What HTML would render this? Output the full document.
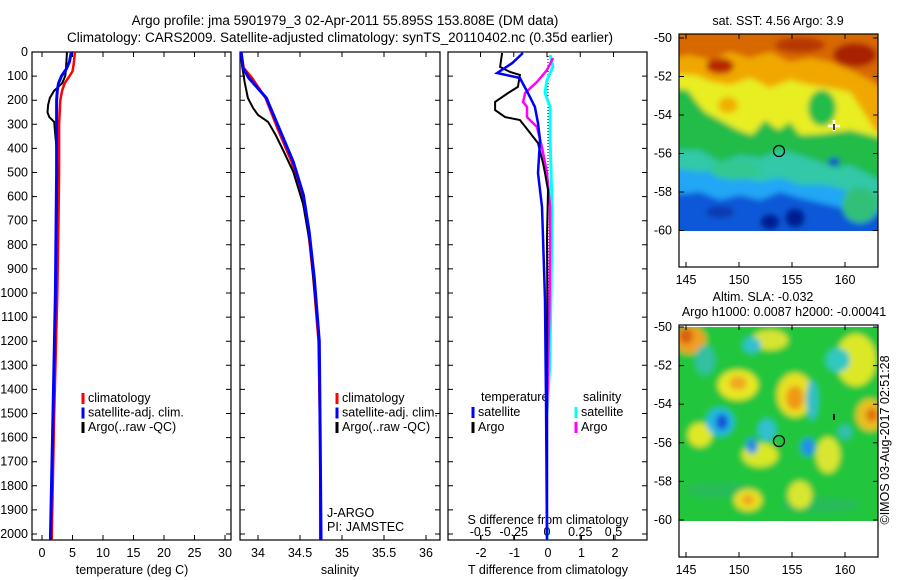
<!DOCTYPE html>
<html><head><meta charset="utf-8"><style>
body{margin:0;background:#fff;}
svg{display:block;font-family:"Liberation Sans",sans-serif;}
text{font-size:12.5px;fill:#000;}
</style></head><body>
<svg id="root" width="900" height="580" viewBox="0 0 900 580">
<defs>
<filter id="bl" x="-5%" y="-5%" width="110%" height="110%"><feGaussianBlur stdDeviation="3"/></filter>
<clipPath id="cm1"><rect x="679" y="34" width="199" height="197"/></clipPath>
<clipPath id="cm2"><rect x="679" y="327" width="199" height="194"/></clipPath>
</defs>
<text x="345" y="25" text-anchor="middle" style="font-size:13.5px">Argo profile: jma 5901979_3 02-Apr-2011 55.895S 153.808E (DM data)</text>
<text x="340" y="42" text-anchor="middle" style="font-size:13.5px">Climatology: CARS2009. Satellite-adjusted climatology: synTS_20110402.nc (0.35d earlier)</text>
<g id="axes"></g>
<g id="lines"></g>

<!-- Top map -->
<g>
<text x="778" y="25" text-anchor="middle">sat. SST: 4.56 Argo: 3.9</text>
<g clip-path="url(#cm1)">
<g filter="url(#bl)">
<rect x="670" y="25" width="220" height="215" fill="#0a58d8"/>
<path d="M670 25H890V215L860 212L830 205L800 198L780 192L760 200L740 195L720 200L700 192L670 195Z" fill="#22a6f6"/>
<path d="M670 25H890V210L860 200L845 190L825 185L800 185L780 178L760 182L740 178L720 170L700 172L670 168Z" fill="#30c8a8"/>
<path d="M670 25H890V185L870 175L850 165L835 168L815 160L800 155L780 150L760 158L740 155L720 162L700 150L670 150Z" fill="#20bc48"/>
<path d="M670 25H890V140L870 135L850 130L835 132L820 134L800 135L790 122L778 130L765 120L752 135L738 130L720 120L705 112L695 100L688 90L670 88Z" fill="#e8ee20"/>
<ellipse cx="822" cy="108" rx="14" ry="18" fill="#20bc48"/>
<path d="M670 25H890V140L875 130L862 110L850 92L830 88L810 85L790 80L770 88L750 78L730 85L712 82L695 75L670 75Z" fill="#f0a800"/>
<path d="M670 25H890V95L870 80L850 70L830 62L810 58L790 62L770 52L750 58L730 52L710 60L690 55L670 58Z" fill="#d86800"/>
<ellipse cx="720" cy="66" rx="14" ry="8" fill="#b82800"/>
<ellipse cx="855" cy="55" rx="22" ry="12" fill="#a82000"/>
<ellipse cx="800" cy="45" rx="25" ry="8" fill="#b83800"/>
<ellipse cx="728" cy="105" rx="10" ry="8" fill="#f0b000"/>
<ellipse cx="735" cy="170" rx="25" ry="10" fill="#30c890"/>
<ellipse cx="860" cy="205" rx="18" ry="18" fill="#30c078"/>
<ellipse cx="770" cy="222" rx="10" ry="8" fill="#001a90"/>
<ellipse cx="795" cy="218" rx="10" ry="10" fill="#001a90"/>
<ellipse cx="720" cy="212" rx="14" ry="6" fill="#0838b0"/>
<ellipse cx="834" cy="162" rx="6" ry="4" fill="#1040d0"/>
</g></g>
<rect x="679" y="231" width="199" height="36" fill="#fff"/>
<rect x="679" y="34" width="199" height="233" fill="none" stroke="#000" stroke-width="1.2"/>
<circle cx="779" cy="151" r="5.5" fill="none" stroke="#000" stroke-width="1.2"/>
<path d="M828 126H840M834 120V131" stroke="#fff" stroke-width="2.5"/>
<path d="M834 124V130" stroke="#000" stroke-width="1.5"/>
</g>

<!-- Bottom map -->
<g>
<text x="763" y="301" text-anchor="middle">Altim. SLA: -0.032</text>
<text x="784" y="316" text-anchor="middle">Argo h1000: 0.0087 h2000: -0.00041</text>
<g clip-path="url(#cm2)">
<g filter="url(#bl)">
<rect x="670" y="320" width="220" height="210" fill="#22c63e"/>
<ellipse cx="720" cy="490" rx="35" ry="8" fill="#28bc58"/>
<ellipse cx="820" cy="505" rx="40" ry="8" fill="#28bc58"/>
<ellipse cx="738" cy="385" rx="20" ry="15" fill="#e8e820"/><ellipse cx="738" cy="383" rx="9" ry="7" fill="#f0a820"/>
<ellipse cx="700" cy="435" rx="12" ry="12" fill="#e0e828"/>
<ellipse cx="760" cy="455" rx="18" ry="12" fill="#d8e828"/>
<ellipse cx="795" cy="395" rx="18" ry="22" fill="#e8e020"/><ellipse cx="795" cy="398" rx="9" ry="12" fill="#f09818"/>
<ellipse cx="748" cy="500" rx="14" ry="11" fill="#e8e020"/><ellipse cx="748" cy="500" rx="6" ry="5" fill="#f0a020"/>
<ellipse cx="856" cy="360" rx="20" ry="26" fill="#dce828"/>
<ellipse cx="770" cy="340" rx="18" ry="10" fill="#d8e430"/>
<ellipse cx="828" cy="455" rx="12" ry="18" fill="#d8e630"/>
<ellipse cx="870" cy="415" rx="14" ry="16" fill="#e8c020"/><ellipse cx="872" cy="415" rx="6" ry="7" fill="#e07010"/>
<ellipse cx="690" cy="340" rx="16" ry="14" fill="#f0a020"/><ellipse cx="686" cy="336" rx="7" ry="8" fill="#d86010"/>
<ellipse cx="800" cy="495" rx="12" ry="14" fill="#d8e630"/>
<ellipse cx="720" cy="422" rx="14" ry="14" fill="#20b8e0"/><ellipse cx="722" cy="422" rx="6" ry="8" fill="#1850d8"/>
<ellipse cx="752" cy="345" rx="9" ry="8" fill="#30c0d0"/>
<ellipse cx="767" cy="430" rx="9" ry="11" fill="#30c0d0"/>
<ellipse cx="808" cy="447" rx="7" ry="9" fill="#2090e8"/>
<ellipse cx="838" cy="360" rx="12" ry="12" fill="#30c8c0"/>
<ellipse cx="812" cy="400" rx="6" ry="20" fill="#30c0c8"/>
<ellipse cx="845" cy="432" rx="7" ry="7" fill="#30c0b0"/>
<ellipse cx="705" cy="360" rx="10" ry="15" fill="#30c0a0"/>
<ellipse cx="752" cy="446" rx="6" ry="8" fill="#2890e0"/>
</g></g>
<rect x="679" y="521" width="199" height="36" fill="#fff"/>
<rect x="679" y="325" width="199" height="232" fill="none" stroke="#000" stroke-width="1.2"/>
<circle cx="779" cy="441" r="5.5" fill="none" stroke="#000" stroke-width="1.2"/>
<path d="M834 414V420" stroke="#000" stroke-width="1.8"/>
<text transform="translate(889,440) rotate(-90)" text-anchor="middle">©IMOS 03-Aug-2017 02:51:28</text>
</g>
</svg>
<script>
// ===== data =====
const tClimDepth=[0,50,80,100,130,160,200,300,500,700,1000,1500,2000,2025];
const tClim=[5.4,5.2,5.0,4.5,3.7,3.3,3.0,2.8,2.8,2.7,2.5,2.0,1.6,1.6];
const tSatDepth=[0,40,70,100,130,160,200,300,500,1000,1500,2000,2025];
const tSat=[4.8,4.5,4.0,3.2,2.7,2.5,2.4,2.4,2.4,2.2,1.8,1.4,1.4];
const tArgoDepth=[0,40,80,100,130,160,190,220,250,270,290,320,350,400,500,1000,1500,1980];
const tArgo=[4.1,4.0,3.9,3.8,3.3,2.0,1.3,1.0,0.9,1.2,2.0,2.1,2.2,2.4,2.5,2.2,1.8,1.4];
const sDepth=[0,66,108,191,315,456,593,747,938,1200,1600,2000,2025];
const sSat=[33.80,33.82,33.89,34.10,34.25,34.42,34.54,34.61,34.67,34.73,34.74,34.75,34.75];
const sClim=[33.80,33.83,33.93,34.09,34.23,34.40,34.52,34.60,34.66,34.72,34.74,34.74,34.74];
const sArgoDepth=[0,54,124,191,232,261,290,344,415,498,635,800,1200,1600,1980];
const sArgo=[33.80,33.81,33.84,33.88,33.94,34.00,34.12,34.21,34.31,34.42,34.54,34.62,34.73,34.74,34.75];
const dtSatDepth=[4,46,87,108,170,228,295,365,502,643,768,1029,1444,2025];
const dtSat=[-0.75,-1.07,-1.52,-0.84,-0.60,-0.39,-0.30,-0.24,-0.30,-0.18,-0.15,-0.09,-0.06,-0.03];
const dtArgoDepth=[4,62,83,95,145,170,207,241,270,282,324,378,461,502,573,768,1000,1500,1980];
const dtArgo=[-1.37,-1.43,-1.13,-0.84,-0.90,-1.19,-1.58,-1.58,-1.28,-0.84,-0.60,-0.30,-0.15,-0.09,0,-0.03,-0.02,-0.03,-0.03];
const dsArgoDepth=[25,75,124,170,207,228,270,311,394,502,643,768,1000,1500,1980];
const dsArgo=[0.045,0,-0.075,-0.165,-0.18,-0.15,-0.15,-0.075,-0.038,0,0.023,0.023,0.02,0.0,0.0];
const dsSatDepth=[12,62,116,170,228,365,643,1000,1300,1500,2025];
const dsSat=[0.023,0.045,0,-0.015,0.023,0.023,0.038,0.03,0.02,0.0,0.0];
const depthTicks=[0,100,200,300,400,500,600,700,800,900,1000,1100,1200,1300,1400,1500,1600,1700,1800,1900,2000];
const tTicks=[0,5,10,15,20,25,30];
const sTicks=[34,34.5,35,35.5,36];
const sTickLabels=["34","34.5","35","35.5","36"];
const dtTicks=[-2,-1,0,1,2];
const dsTicks=[-0.5,-0.25,0,0.25,0.5];
const latTicks=[-50,-52,-54,-56,-58,-60];
const lonTicks=[145,150,155,160];
// ===== scales =====
const yD=d=>52+0.241*d;
const xT=v=>42+6.1*v;
const xS=v=>258+84*(v-34);
const xDT=v=>548+33.5*v;
const xDS=v=>547+133*v;
const NS='http://www.w3.org/2000/svg';
const axes=document.getElementById('axes'), lines=document.getElementById('lines'), root=document.getElementById('root');
function mk(tag,attrs,parent,txt){const e=document.createElementNS(NS,tag);for(const k in attrs)e.setAttribute(k,attrs[k]);if(txt!==undefined)e.textContent=txt;parent.appendChild(e);return e;}
const panels=[[32,231],[240,440],[448,647]];
panels.forEach((p,i)=>{
  const r=mk('rect',{x:p[0],y:52,width:p[1]-p[0],height:488,fill:'none',stroke:'#000','stroke-width':1.2},axes);
  
  
  depthTicks.forEach(d=>{mk('path',{d:`M${p[0]} ${yD(d)}h5M${p[1]} ${yD(d)}h-5`,stroke:'#000'},axes);});
});
depthTicks.forEach(d=>{
  const t=mk('text',{x:28,y:yD(d)+4,'text-anchor':'end'},axes,String(d));
  
  
});
tTicks.forEach(v=>{const x=xT(v);mk('path',{d:`M${x} 540v-5M${x} 52v5`,stroke:'#000'},axes);
  const t=mk('text',{x:x,y:557,'text-anchor':'middle'},axes,String(v));
  
  });
sTicks.forEach((v,i)=>{const x=xS(v);mk('path',{d:`M${x} 540v-5M${x} 52v5`,stroke:'#000'},axes);
  const t=mk('text',{x:x,y:557,'text-anchor':'middle'},axes,sTickLabels[i]);
  
  });
dtTicks.forEach(v=>{const x=xDT(v);mk('path',{d:`M${x} 540v-5`,stroke:'#000'},axes);
  const t=mk('text',{x:x,y:557,'text-anchor':'middle'},axes,String(v));
  
  });
dsTicks.forEach(v=>{const x=xDS(v);mk('path',{d:`M${x} 52v5M${x} 540v-5`,stroke:'#000'},axes);
  const t=mk('text',{x:x,y:536,'text-anchor':'middle'},axes,String(v));
  
  });
[['temperature (deg C)',132,'x-axis-title-temperature'],['salinity',340,'x-axis-title-salinity'],['T difference from climatology',548,'x-axis-title-t-diff']].forEach(a=>{
  const t=mk('text',{x:a[1],y:574,'text-anchor':'middle'},axes,a[0]);
  
  });
const st=mk('text',{x:548,y:524,'text-anchor':'middle'},axes,'S difference from climatology');


// zero dotted line
mk('path',{d:`M${xDT(0)} 56V540`,stroke:'#000','stroke-dasharray':'1 2','stroke-width':1},lines);
function series(depths,vals,xf,color,w,name){
  const pts=vals.map((v,i)=>xf(v).toFixed(1)+','+yD(depths[i]).toFixed(1)).join(' ');
  const pl=mk('polyline',{points:pts,fill:'none',stroke:color,'stroke-width':w,'stroke-linejoin':'miter'},lines);
  
  
}
series(tClimDepth,tClim,xT,'#f00',2.5,'temperature-climatology-line');
series(tArgoDepth,tArgo,xT,'#000',2,'temperature-argo-line');
series(tSatDepth,tSat,xT,'#00f',3,'temperature-satellite-line');
series(sDepth,sClim,xS,'#f00',2.5,'salinity-climatology-line');
series(sArgoDepth,sArgo,xS,'#000',2,'salinity-argo-line');
series(sDepth,sSat,xS,'#00f',3,'salinity-satellite-line');
series(dsSatDepth,dsSat,xDS,'#0ff',3,'s-diff-satellite-line');
series(dsArgoDepth,dsArgo,xDS,'#f0f',2.5,'s-diff-argo-line');
series(dtArgoDepth,dtArgo,xDT,'#000',2,'t-diff-argo-line');
series(dtSatDepth,dtSat,xDT,'#00f',2.5,'t-diff-satellite-line');
// legends
function legend(x,y,color,label,name){
  const g=mk('g',{},axes);
  
  
  mk('path',{d:`M${x} ${y-9}v11`,stroke:color,'stroke-width':3},g);
  mk('text',{x:x+5,y:y},g,label);
}
[[83,'#f00','climatology'],[83,'#00f','satellite-adj. clim.'],[83,'#000','Argo(..raw -QC)']].forEach((a,i)=>legend(a[0],402+i*14.5,a[1],a[2],'legend-entry-temperature'));
[[337,'#f00','climatology'],[337,'#00f','satellite-adj. clim.'],[337,'#000','Argo(..raw -QC)']].forEach((a,i)=>legend(a[0],402+i*14.5,a[1],a[2],'legend-entry-salinity'));
const lt=mk('text',{x:481,y:401},axes,'temperature');


const ls=mk('text',{x:583,y:401},axes,'salinity');


legend(473,416,'#00f','satellite','legend-entry-t-satellite');
legend(473,431,'#000','Argo','legend-entry-t-argo');
legend(576,416,'#0ff','satellite','legend-entry-s-satellite');
legend(576,431,'#f0f','Argo','legend-entry-s-argo');
const j1=mk('text',{x:327,y:517},axes,'J-ARGO');


const j2=mk('text',{x:327,y:531},axes,'PI: JAMSTEC');


// map ticks (labels every 2 degrees)
[[38,19.25],[327,19.3]].forEach(m=>{
  latTicks.forEach(v=>{const y=m[0]+(-50-v)*m[1];
    mk('path',{d:`M679 ${y}h5M878 ${y}h-5`,stroke:'#000'},root);
    const t=mk('text',{x:672,y:y+4,'text-anchor':'end'},root,String(v));
    
    });
});
[[34,267,284],[325,557,574]].forEach(m=>{
  lonTicks.forEach(v=>{const x=686+(v-145)*10.6;
    mk('path',{d:`M${x} ${m[0]}v5M${x} ${m[1]}v-5`,stroke:'#000'},root);
    const t=mk('text',{x:x,y:m[2],'text-anchor':'middle'},root,String(v));
    
    });
});
</script>
</body></html>
